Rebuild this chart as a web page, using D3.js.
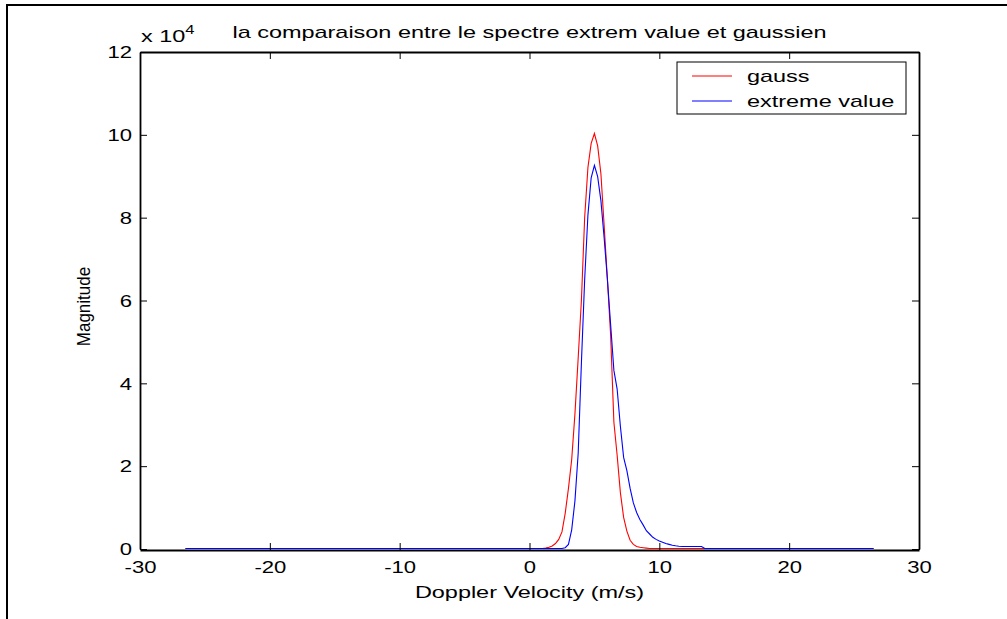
<!DOCTYPE html>
<html>
<head>
<meta charset="utf-8">
<script src="https://cdn.jsdelivr.net/npm/d3@7"></script>
<style>
  body { margin: 0; background: #fff; }
  svg { display: block; }
  text { font-family: "Liberation Sans", Arial, Helvetica, sans-serif; fill: #000; }
</style>
</head>
<body>
<svg id="chart" width="1007" height="619"></svg>
<script>
// Doppler velocity samples (m/s)
const velocity = [-26.5, 0.75, 1.0, 1.25, 1.5, 1.75, 2.0, 2.25, 2.5, 2.75, 3.0, 3.25, 3.5, 3.75,
  4.0, 4.25, 4.5, 4.75, 5.0, 5.25, 5.5, 5.75, 6.0, 6.25, 6.5, 6.75, 7.0, 7.25, 7.5, 7.75,
  8.0, 8.25, 8.5, 8.75, 9.0, 9.25, 9.5, 9.75, 10.0, 10.25, 10.5, 10.75, 11.0, 11.25, 11.5,
  11.75, 12.0, 12.25, 12.5, 12.75, 13.0, 13.25, 13.5, 26.5];

// Spectrum magnitudes, in units of 10^4
const gauss = [0, 0, 0, 0.01, 0.03, 0.06, 0.12, 0.22, 0.40, 0.85, 1.45, 2.15, 3.25, 4.6,
  6.0, 8.0, 9.2, 9.78, 10.02, 9.72, 9.05, 7.8, 6.5, 5.15, 3.05, 2.25, 1.35, 0.75, 0.42, 0.2,
  0.1, 0.05, 0.03, 0.02, 0.01, 0, 0, 0, 0, 0, 0, 0, 0, 0, 0,
  0, 0, 0, 0, 0, 0, 0, 0, 0];

const extremeValue = [0, 0, 0, 0, 0, 0, 0, 0, 0, 0.02, 0.1, 0.45, 1.15, 2.3,
  4.5, 6.5, 8.05, 8.95, 9.25, 8.98, 8.4, 7.5, 6.5, 5.4, 4.3, 3.85, 2.95, 2.2, 1.88, 1.45,
  1.1, 0.87, 0.7, 0.57, 0.43, 0.35, 0.27, 0.22, 0.18, 0.15, 0.12, 0.1, 0.08, 0.065, 0.055,
  0.05, 0.05, 0.05, 0.05, 0.05, 0.05, 0.05, 0, 0];

const xTicks = [-30, -20, -10, 0, 10, 20, 30];
const yTicks = [0, 2, 4, 6, 8, 10, 12];
const seriesNames = ["gauss", "extreme value"];
const seriesColors = ["#ff0000", "#0000ff"];
const titleText = "la comparaison entre le spectre extrem value et gaussien";
const xLabelText = "Doppler Velocity (m/s)";
const yLabelText = "Magnitude";

const svg = d3.select("#chart");
const W = 1007, H = 619;
const plot = { left: 140, right: 919, top: 52, bottom: 549 };
const tickLen = 7;
const kTick = 1.30;   // horizontal stretch of the tick labels
const kText = 1.38;   // horizontal stretch of title / labels / legend
const plainNumber = d => String(d);   // ASCII hyphen for negatives

const x = d3.scaleLinear().domain([-30, 30]).range([plot.left, plot.right]);
const y = d3.scaleLinear().domain([0, 12]).range([plot.bottom, plot.top]);

svg.append("rect").attr("width", W).attr("height", H).attr("fill", "#fff");

// figure frame (top and left edges)
svg.append("line").attr("x1", 6).attr("x2", W).attr("y1", 5).attr("y2", 5)
  .attr("stroke", "#000").attr("stroke-width", 2);
svg.append("line").attr("x1", 7).attr("x2", 7).attr("y1", 4).attr("y2", H)
  .attr("stroke", "#000").attr("stroke-width", 2);

// curves
const line = d3.line().x((d, i) => x(velocity[i])).y(d => y(d) - 0.5);
[gauss, extremeValue].forEach((vals, s) => {
  svg.append("path").datum(vals)
    .attr("fill", "none")
    .attr("stroke", seriesColors[s])
    .attr("stroke-width", 1.1)
    .attr("d", line);
});

// axes, ticks inward on all four sides
function styleAxis(g) {
  g.select(".domain").attr("stroke", "#000").attr("stroke-width", 1.8);
  g.selectAll(".tick line").attr("stroke", "#000").attr("stroke-width", 1);
}
const gBottom = svg.append("g").attr("transform", `translate(0,${plot.bottom + 1})`)
  .call(d3.axisBottom(x).tickValues(xTicks).tickFormat(plainNumber)
    .tickSizeInner(-tickLen).tickSizeOuter(0))
  .call(styleAxis);
gBottom.selectAll(".tick text")
  .attr("y", 0).attr("dy", null)
  .attr("transform", `translate(0,23) scale(${kTick},1)`)
  .style("font-size", "17px");

const gLeft = svg.append("g").attr("transform", `translate(${plot.left},0)`)
  .call(d3.axisLeft(y).tickValues(yTicks).tickFormat(plainNumber)
    .tickSizeInner(-tickLen).tickSizeOuter(0))
  .call(styleAxis);
gLeft.selectAll(".tick text")
  .attr("x", 0).attr("dy", "0.34em")
  .attr("transform", `translate(-8,0) scale(${kTick},1)`)
  .style("font-size", "17px");

svg.append("g").attr("transform", `translate(0,${plot.top})`)
  .call(d3.axisTop(x).tickValues(xTicks).tickSizeInner(-tickLen).tickSizeOuter(0).tickFormat(""))
  .call(styleAxis);
svg.append("g").attr("transform", `translate(${plot.right},0)`)
  .call(d3.axisRight(y).tickValues(yTicks).tickSizeInner(-tickLen).tickSizeOuter(0).tickFormat(""))
  .call(styleAxis);

// exponent label
const expo = svg.append("text")
  .attr("transform", `translate(${plot.left + 1},42) scale(${kText},1)`)
  .style("font-size", "17px");
expo.append("tspan").text("x 10");
expo.append("tspan").attr("dy", -8).style("font-size", "12px").text("4");

// title
svg.append("text")
  .attr("transform", `translate(${(plot.left + plot.right) / 2},38) scale(${kText},1)`)
  .attr("text-anchor", "middle").style("font-size", "17px")
  .text(titleText);

// axis labels
svg.append("text")
  .attr("transform", `translate(${(plot.left + plot.right) / 2},598) scale(${kText},1)`)
  .attr("text-anchor", "middle").style("font-size", "17px")
  .text(xLabelText);
svg.append("text")
  .attr("transform", `translate(90,${(plot.top + plot.bottom) / 2 + 6}) scale(${kText - 0.25},1) rotate(-90)`)
  .attr("text-anchor", "middle").style("font-size", "17px")
  .text(yLabelText);

// legend
const legend = svg.append("g").attr("transform", "translate(677,62)");
legend.append("rect").attr("width", 229).attr("height", 52)
  .attr("fill", "#fff").attr("stroke", "#000").attr("stroke-width", 1);
seriesNames.forEach((name, i) => {
  const yy = 14 + i * 25;
  legend.append("line").attr("x1", 15).attr("x2", 55).attr("y1", yy).attr("y2", yy)
    .attr("stroke", seriesColors[i]).attr("stroke-width", 1.1);
  legend.append("text")
    .attr("transform", `translate(70,${yy + 6}) scale(${kText},1)`)
    .style("font-size", "17px").text(name);
});
</script>
</body>
</html>
